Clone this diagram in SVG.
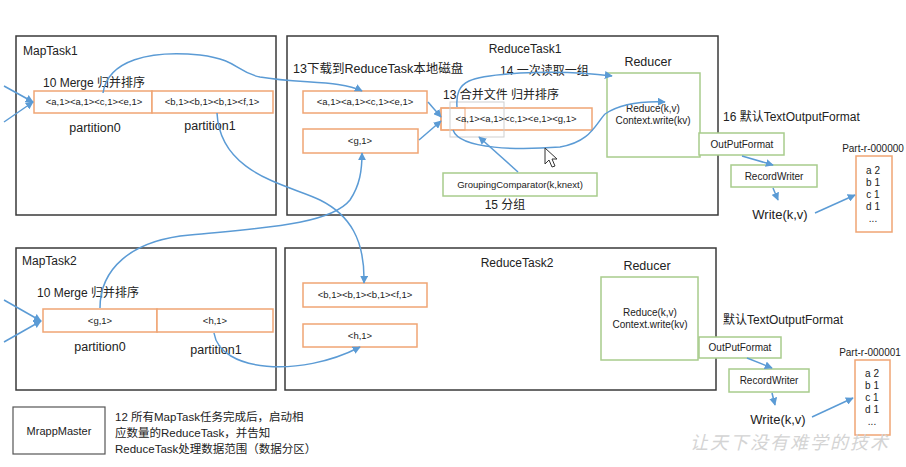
<svg xmlns="http://www.w3.org/2000/svg" width="906" height="467" viewBox="0 0 906 467">
<style>
text{font-family:"Liberation Sans","Noto Sans CJK SC",Arial,sans-serif;fill:#222}
.task{fill:#fff;stroke:#3a3a3a;stroke-width:1.5}
.org{fill:#fff;stroke:#f0a574;stroke-width:1.5}
.grn{fill:#fff;stroke:#a8cc8c;stroke-width:1.5}
.t12{font-size:12px}
.t13{font-size:12.5px}
.t9{font-size:9.5px;text-anchor:middle}
.t10{font-size:10px;text-anchor:middle}
.mid{text-anchor:middle}
.con{fill:none;stroke:#5b9bd5;stroke-width:1.5}
.arr{marker-end:url(#ah)}
</style>
<defs>
<marker id="ah" viewBox="0 0 10 10" refX="9" refY="5" markerWidth="8" markerHeight="8" markerUnits="userSpaceOnUse" orient="auto">
<path d="M0,0 L10,5 L0,10 z" fill="#5b9bd5"/>
</marker>
</defs>
<rect width="906" height="467" fill="#fff"/>

<g id="maptask1">
<rect class="task" x="16" y="36" width="260" height="179"/>
<text class="t12" x="23" y="55">MapTask1</text>
<text class="t12" x="43" y="87">10 Merge 归并排序</text>
<rect class="org" x="34" y="91" width="118" height="22"/>
<rect class="org" x="152" y="91" width="121" height="22"/>
<text class="t9" x="94" y="105">&lt;a,1&gt;&lt;a,1&gt;&lt;c,1&gt;&lt;e,1&gt;</text>
<text class="t9" x="212" y="105">&lt;b,1&gt;&lt;b,1&gt;&lt;b,1&gt;&lt;f,1&gt;</text>
<text class="t13 mid" x="95" y="132">partition0</text>
<text class="t13 mid" x="210" y="130">partition1</text>
</g>

<g id="reducetask1">
<rect class="task" x="287" y="36" width="431" height="179"/>
<text class="t12 mid" x="525" y="53">ReduceTask1</text>
<text class="t13" x="293" y="73">13下载到ReduceTask本地磁盘</text>
<text class="t12" x="500" y="75">14 一次读取一组</text>
<rect class="org" x="303" y="91" width="124" height="22"/>
<text class="t9" x="365" y="105">&lt;a,1&gt;&lt;a,1&gt;&lt;c,1&gt;&lt;e,1&gt;</text>
<rect class="org" x="303" y="129" width="115" height="24"/>
<text class="t9" x="360" y="144">&lt;g,1&gt;</text>
<text class="t12" x="443" y="99">13 合并文件 归并排序</text>
</g>

<g id="merged">
<rect class="org" x="441" y="108" width="151" height="22"/>
<rect x="441" y="108" width="24" height="22" fill="none" stroke="#f0a574" stroke-width="1"/>
<rect x="450" y="102" width="54" height="35" fill="none" stroke="#cfcfcf" stroke-width="1"/>
<text class="t9" x="516" y="122" font-size="10">&lt;a,1&gt;&lt;a,1&gt;&lt;c,1&gt;&lt;e,1&gt;&lt;g,1&gt;</text>
</g>

<g id="grouping">
<rect class="grn" x="443" y="173" width="154" height="23"/>
<text class="t9" x="520" y="188">GroupingComparator(k,knext)</text>
<text class="t12 mid" x="505" y="209">15 分组</text>
</g>

<g id="reducer1">
<text class="t13 mid" x="648" y="66">Reducer</text>
<rect class="grn" x="607" y="73" width="93" height="84"/>
<text class="t10" x="653" y="112">Reduce(k,v)</text>
<text class="t10" x="653" y="124">Context.write(kv)</text>
</g>

<g id="output1">
<text class="t12" x="723" y="121">16 默认TextOutputFormat</text>
<rect class="grn" x="699" y="133" width="85" height="22"/>
<text class="t10" x="742" y="148">OutPutFormat</text>
<rect class="grn" x="731" y="165" width="86" height="22"/>
<text class="t10" x="774" y="180">RecordWriter</text>
<text class="mid" font-size="13" x="780" y="219">Write(k,v)</text>
<text class="t10" x="873" y="152">Part-r-000000</text>
<rect class="org" x="856" y="156" width="36" height="76"/>
<text class="t10" x="873" y="174" font-size="11">a 2</text>
<text class="t10" x="873" y="186" font-size="11">b 1</text>
<text class="t10" x="873" y="198" font-size="11">c 1</text>
<text class="t10" x="873" y="210" font-size="11">d 1</text>
<text class="t10" x="873" y="222" font-size="11">...</text>
</g>

<g id="maptask2">
<rect class="task" x="16" y="248" width="260" height="142"/>
<text class="t12" x="22" y="265">MapTask2</text>
<text class="t12" x="37" y="297">10 Merge 归并排序</text>
<rect class="org" x="43" y="309" width="114" height="23"/>
<rect class="org" x="157" y="309" width="116" height="23"/>
<text class="t9" x="100" y="324">&lt;g,1&gt;</text>
<text class="t9" x="215" y="324">&lt;h,1&gt;</text>
<text class="t13 mid" x="100" y="351">partition0</text>
<text class="t13 mid" x="216" y="354">partition1</text>
</g>

<g id="reducetask2">
<rect class="task" x="285" y="248" width="431" height="142"/>
<text class="t12 mid" x="517" y="267">ReduceTask2</text>
<rect class="org" x="303" y="283" width="124" height="24"/>
<text class="t9" x="365" y="298">&lt;b,1&gt;&lt;b,1&gt;&lt;b,1&gt;&lt;f,1&gt;</text>
<rect class="org" x="303" y="324" width="114" height="23"/>
<text class="t9" x="360" y="339">&lt;h,1&gt;</text>
</g>

<g id="reducer2">
<text class="t13 mid" x="647" y="270">Reducer</text>
<rect class="grn" x="601" y="277" width="97" height="83"/>
<text class="t10" x="650" y="316">Reduce(k,v)</text>
<text class="t10" x="650" y="328">Context.write(kv)</text>
</g>

<g id="output2">
<text class="t12" x="723" y="324">默认TextOutputFormat</text>
<rect class="grn" x="699" y="337" width="82" height="21"/>
<text class="t10" x="740" y="351">OutPutFormat</text>
<rect class="grn" x="729" y="369" width="80" height="23"/>
<text class="t10" x="769" y="384">RecordWriter</text>
<text class="mid" font-size="13" x="778" y="424">Write(k,v)</text>
<text class="t10" x="870" y="356">Part-r-000001</text>
<rect class="org" x="855" y="360" width="35" height="75"/>
<text class="t10" x="872" y="377" font-size="11">a 2</text>
<text class="t10" x="872" y="389" font-size="11">b 1</text>
<text class="t10" x="872" y="401" font-size="11">c 1</text>
<text class="t10" x="872" y="413" font-size="11">d 1</text>
<text class="t10" x="872" y="425" font-size="11">...</text>
</g>

<g id="mrappmaster">
<rect x="13" y="407" width="92" height="47" fill="#fff" stroke="#555" stroke-width="1.2"/>
<text class="mid" font-size="11" x="59" y="435">MrappMaster</text>
<text font-size="11.5" x="115" y="421">12 所有MapTask任务完成后，启动相</text>
<text font-size="11.5" x="115" y="437">应数量的ReduceTask，并告知</text>
<text font-size="11.5" x="115" y="453">ReduceTask处理数据范围（数据分区）</text>
</g>

<g id="connectors">
<path class="con arr" d="M4,86 L33,102"/>
<path class="con arr" d="M4,122 L33,102"/>
<path class="con arr" d="M4,300 L41,321"/>
<path class="con arr" d="M4,342 L41,321"/>
<path class="con arr" d="M103,93 C108,60 150,50 200,55 C240,60 235,72 260,77 C300,84 340,80 362,91"/>
<path class="con arr" d="M217,113 C220,175 290,185 320,200 C350,215 365,240 364,283"/>
<path class="con arr" d="M100,308 C100,270 130,240 190,235 C260,228 330,225 350,200 C360,185 362,170 362,153"/>
<path class="con arr" d="M214,333 C220,372 300,378 360,347"/>
<path class="con arr" d="M428,102 L441,117"/>
<path class="con arr" d="M419,140 L441,121"/>
<path class="con arr" d="M457,107 C455,80 470,76 520,73 C560,71 590,73 612,76"/>
<path class="con" d="M453,130 C460,150 520,150 560,147 C590,142 595,125 605,114"/>
<path class="con arr" d="M605,114 C620,104 640,101 665,102"/>
<path class="con arr" d="M518,172 L479,137"/>
<path class="con arr" d="M742,156 L773,165"/>
<path class="con arr" d="M773,188 L778,200"/>
<path class="con arr" d="M815,213 L855,195"/>
<path class="con arr" d="M747,358 L772,368"/>
<path class="con arr" d="M772,393 L775,405"/>
<path class="con arr" d="M812,417 L853,398"/>
</g>

<g id="cursor">
<path d="M545,148 L545,164 L549,160 L552,167 L555,166 L552,159 L557,159 Z" fill="#fff" stroke="#333" stroke-width="1"/>
</g>

<text x="690" y="449" font-size="18" fill="#d4d4d4" style="fill:#d4d4d4;letter-spacing:2px;font-style:italic">让天下没有难学的技术</text>
</svg>
